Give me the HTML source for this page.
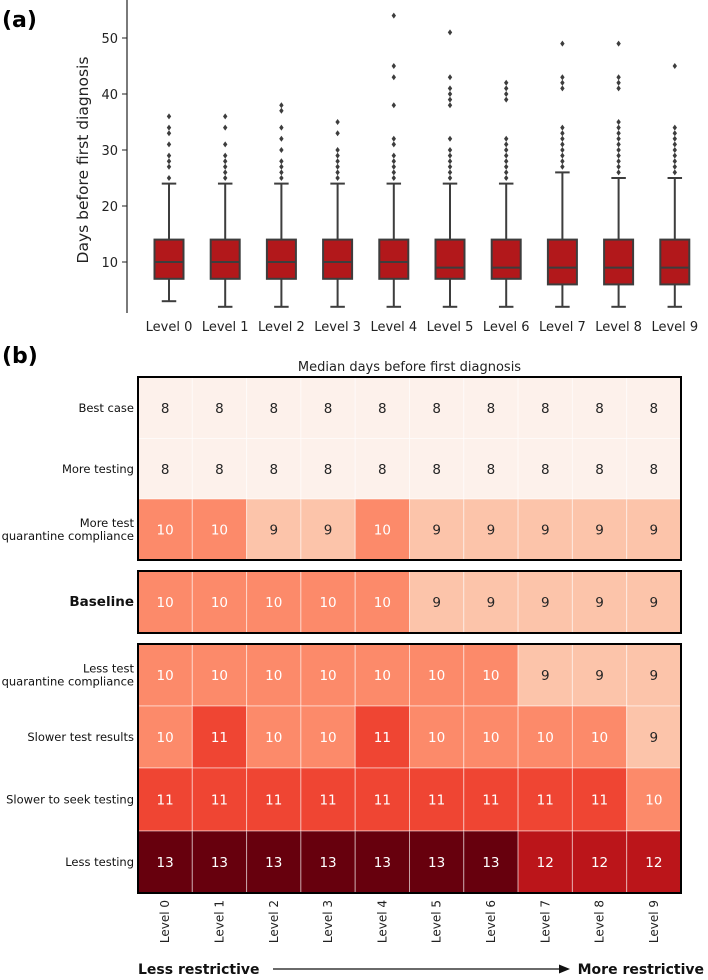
<!DOCTYPE html>
<html><head><meta charset="utf-8">
<style>
body{margin:0;background:#fff;font-family:"DejaVu Sans","Liberation Sans",sans-serif;}
svg text{font-family:"DejaVu Sans","Liberation Sans",sans-serif;}
</style></head>
<body>
<svg id="fig" width="708" height="976" viewBox="0 0 708 976" xmlns="http://www.w3.org/2000/svg">
<text x="2" y="27" font-size="22" font-weight="bold" font-family="Liberation Sans">(a)</text>
<text x="2" y="363" font-size="22" font-weight="bold" font-family="Liberation Sans">(b)</text>
<g id="boxplot"></g>
<g id="heat"></g>
</svg>
<script>
const levels=["Level 0","Level 1","Level 2","Level 3","Level 4","Level 5","Level 6","Level 7","Level 8","Level 9"];
const whiskLow=[3,2,2,2,2,2,2,2,2,2];
const q1=[7,7,7,7,7,7,7,6,6,6];
const medians=[10,10,10,10,10,9,9,9,9,9];
const q3=[14,14,14,14,14,14,14,14,14,14];
const whiskHigh=[24,24,24,24,24,24,24,26,25,25];
const outliers=[
[25,27,28,29,31,33,34,36],
[25,26,27,28,29,31,34,36],
[25,26,27,28,30,32,34,37,38],
[25,26,27,28,29,30,33,35],
[25,26,27,28,29,31,32,38,43,45,54],
[25,26,27,28,29,30,32,38,39,40,41,43,51],
[25,26,27,28,29,30,31,32,39,40,41,42],
[27,28,29,30,31,32,33,34,41,42,43,49],
[26,27,28,29,30,31,32,33,34,35,41,42,43,49],
[26,27,28,29,30,31,32,33,34,45]];
const yTicks=[10,20,30,40,50];

const rowLabels=[["Best case"],["More testing"],["More test","quarantine compliance"],["Baseline"],["Less test","quarantine compliance"],["Slower test results"],["Slower to seek testing"],["Less testing"]];
const heatValues=[
[8,8,8,8,8,8,8,8,8,8],
[8,8,8,8,8,8,8,8,8,8],
[10,10,9,9,10,9,9,9,9,9],
[10,10,10,10,10,9,9,9,9,9],
[10,10,10,10,10,10,10,9,9,9],
[10,11,10,10,11,10,10,10,10,9],
[11,11,11,11,11,11,11,11,11,10],
[13,13,13,13,13,13,13,12,12,12]];

const NS="http://www.w3.org/2000/svg";
function mk(p,t,a){const e=document.createElementNS(NS,t);for(const k in a)e.setAttribute(k,a[k]);p.appendChild(e);return e;}
const bp=document.getElementById('boxplot');
const ys=v=>262-(v-10)*5.6;
const xs=i=>169+i*56.2;
const axis=mk(bp,'line',{x1:127,y1:0,x2:127,y2:313,stroke:'#222','stroke-width':1.2});


yTicks.forEach(t=>{
 mk(bp,'line',{x1:122,x2:127,y1:ys(t),y2:ys(t),stroke:'#222','stroke-width':1});
 const tx=mk(bp,'text',{x:118,y:ys(t)+5,'text-anchor':'end','font-size':13,fill:'#222'});
 tx.textContent=t;
 
 
});
const yt=mk(bp,'text',{x:0,y:0,transform:'translate(88,160) rotate(-90)','text-anchor':'middle','font-size':15.5,fill:'#222'});
yt.textContent='Days before first diagnosis';


levels.forEach((l,i)=>{
 const g=mk(bp,'g',{});
 
 
 const cx=xs(i),w=29,c='#3d3d3d';
 mk(g,'line',{x1:cx,x2:cx,y1:ys(whiskHigh[i]),y2:ys(q3[i]),stroke:c,'stroke-width':2});
 mk(g,'line',{x1:cx,x2:cx,y1:ys(q1[i]),y2:ys(whiskLow[i]),stroke:c,'stroke-width':2});
 mk(g,'line',{x1:cx-w/4,x2:cx+w/4,y1:ys(whiskHigh[i]),y2:ys(whiskHigh[i]),stroke:c,'stroke-width':2});
 mk(g,'line',{x1:cx-w/4,x2:cx+w/4,y1:ys(whiskLow[i]),y2:ys(whiskLow[i]),stroke:c,'stroke-width':2});
 mk(g,'rect',{x:cx-w/2,y:ys(q3[i]),width:w,height:ys(q1[i])-ys(q3[i]),fill:'#b2181b',stroke:c,'stroke-width':2});
 mk(g,'line',{x1:cx-w/2,x2:cx+w/2,y1:ys(medians[i]),y2:ys(medians[i]),stroke:c,'stroke-width':2});
 outliers[i].forEach(v=>mk(g,'path',{d:`M${cx} ${ys(v)-3}L${cx+2.2} ${ys(v)}L${cx} ${ys(v)+3}L${cx-2.2} ${ys(v)}Z`,fill:c}));
 const tx=mk(bp,'text',{x:cx,y:331,'text-anchor':'middle','font-size':13,fill:'#222'});
 tx.textContent=l;
 
 
});
const hm=document.getElementById('heat');
const colors={8:'#fdf1eb',9:'#fcc4aa',10:'#fc8a6a',11:'#ef4533',12:'#bb151a',13:'#67000d'};
const x0=138,cw=54.3;
const rowY=[377,438.5,499,571,644,706,768,831];
const rh=[61.5,60.5,61,62,62,62,63,62];
const tt=mk(hm,'text',{x:(x0+x0+10*cw)/2,y:371,'text-anchor':'middle','font-size':13,fill:'#222'});
tt.textContent='Median days before first diagnosis';


heatValues.forEach((row,r)=>{
 row.forEach((v,c)=>{
  const cell=mk(hm,'rect',{x:x0+c*cw,y:rowY[r],width:cw,height:rh[r],fill:colors[v],stroke:'#fff','stroke-opacity':0.5,'stroke-width':1});
  
  
  const t=mk(hm,'text',{x:x0+c*cw+cw/2,y:rowY[r]+rh[r]/2+5,'text-anchor':'middle','font-size':13.5,fill:v>=10?'#fff':'#262626'});
  t.textContent=v;
  
  
 });
 const lab=rowLabels[r];
 lab.forEach((s,k)=>{
  const t=mk(hm,'text',{x:134,y:rowY[r]+rh[r]/2+4+(k-(lab.length-1)/2)*13,'text-anchor':'end','font-size':r==3?13.5:11.5,'font-weight':r==3?'bold':'normal',fill:'#111'});
  t.textContent=s;
  
  
 });
});
[[377,560],[571,633],[644,893]].forEach(([a,b])=>{
 const f=mk(hm,'rect',{x:x0,y:a,width:10*cw,height:b-a,fill:'none',stroke:'#000','stroke-width':2});
 
 
});
levels.forEach((l,i)=>{
 const cx=x0+i*cw+cw/2;
 const t=mk(hm,'text',{x:0,y:0,transform:`translate(${cx+4},${900}) rotate(-90)`,'text-anchor':'end','font-size':12,fill:'#222'});
 t.textContent=l;
 
 
});
const lr=mk(hm,'text',{x:138,y:974,'font-size':14,'font-weight':'bold',fill:'#111'});lr.textContent='Less restrictive';


const mr=mk(hm,'text',{x:704,y:974,'text-anchor':'end','font-size':14,'font-weight':'bold',fill:'#111'});mr.textContent='More restrictive';


const ar=mk(hm,'g',{});


mk(ar,'line',{x1:273,x2:560,y1:969,y2:969,stroke:'#111','stroke-width':1.2});
mk(ar,'path',{d:'M570 969L559 964.5L559 973.5Z',fill:'#111'});
</script>
</body></html>
